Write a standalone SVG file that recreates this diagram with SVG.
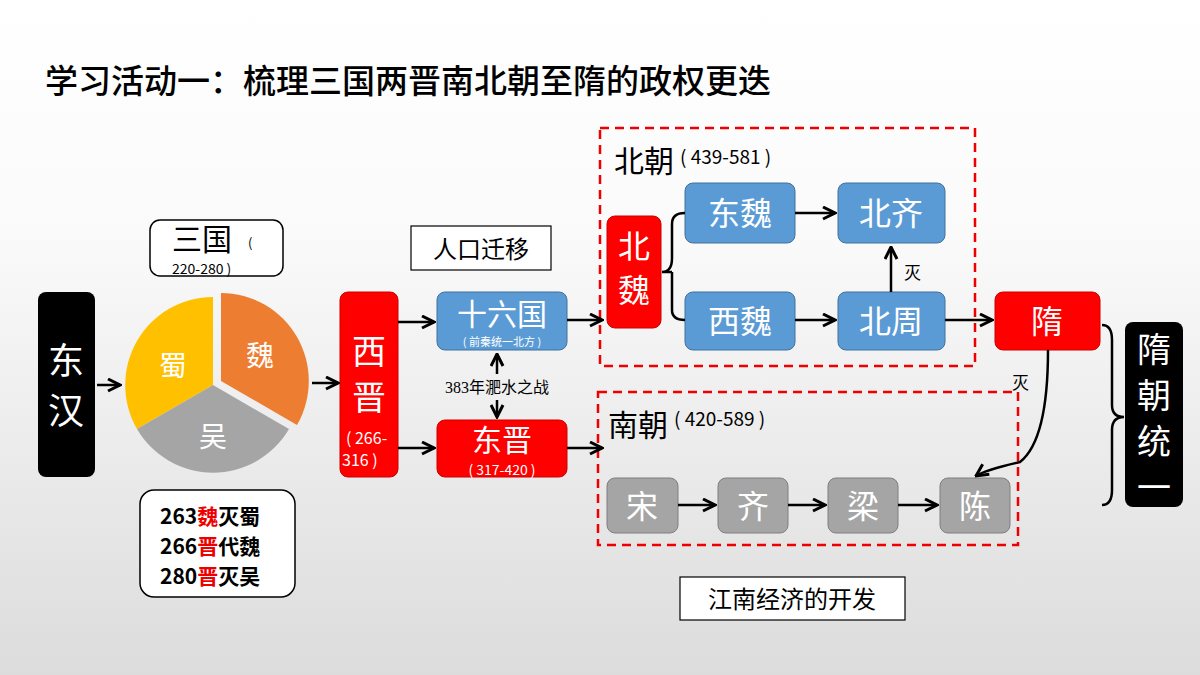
<svg xmlns="http://www.w3.org/2000/svg" width="1200" height="675" viewBox="0 0 1200 675">
<defs>
<linearGradient id="bg" x1="0" y1="0" x2="0" y2="1"><stop offset="0" stop-color="#ffffff"/><stop offset="0.35" stop-color="#fafafa"/><stop offset="1" stop-color="#dcdcdc"/></linearGradient>
<marker id="ah" viewBox="0 0 10 10" refX="9" refY="5" markerWidth="6" markerHeight="6" orient="auto-start-reverse"><path d="M1 1 L9 5 L1 9" fill="none" stroke="#000" stroke-width="2"/></marker>
<style>
text{font-family:"Noto Sans CJK SC","Liberation Sans",sans-serif}
.w{fill:#fff}.k{fill:#000}
.c{stroke:#000;stroke-width:2.5;fill:none;marker-end:url(#ah)}
.blue{fill:#5b9bd5;stroke:#41719c;stroke-width:1}
.red{fill:#f00;stroke:#c00;stroke-width:1}
.gray{fill:#a5a5a5;stroke:#7f7f7f;stroke-width:1}
.dash{fill:none;stroke:#e00;stroke-width:2.5;stroke-dasharray:9 6}
</style>
</defs>
<rect width="1200" height="675" fill="url(#bg)"/>
<text x="45" y="93" font-size="33" font-weight="500" class="k">学习活动一：梳理三国两晋南北朝至隋的政权更迭</text>

<g id="donghan"><rect x="38" y="292" width="57" height="185" rx="8" fill="#000"/>
<text x="66" y="374" font-size="36" class="w" text-anchor="middle">东</text><text x="66" y="424" font-size="36" class="w" text-anchor="middle">汉</text></g>

<g id="sanguo-pie">
<path d="M213 385 L213 297 A88 88 0 0 0 137 429 Z" fill="#ffc000"/>
<path d="M221 381 L221 293 A88 88 0 0 1 297 425 Z" fill="#ed7d31"/>
<path d="M213 385 L289 429 A88 88 0 0 1 137 429 Z" fill="#a5a5a5"/>
<text x="173" y="376" font-size="28" class="w" text-anchor="middle">蜀</text>
<text x="260" y="366" font-size="28" class="w" text-anchor="middle">魏</text>
<text x="213" y="447" font-size="28" class="w" text-anchor="middle">吴</text>
</g>
<g id="sanguo-label"><rect x="150" y="220" width="133" height="56" rx="10" fill="#fff" stroke="#000" stroke-width="1.5"/>
<text x="172" y="250" font-size="30" class="k">三国</text><text x="248" y="248" font-size="13" class="k">(</text>
<text x="172" y="274" font-size="14" class="k">220-280 )</text></g>
<g id="note"><rect x="140" y="490" width="155" height="107" rx="14" fill="#fff" stroke="#000" stroke-width="1.5"/>
<text x="160" y="524" font-size="21" font-weight="bold" class="k">263<tspan fill="#e00">魏</tspan>灭蜀</text>
<text x="160" y="554" font-size="21" font-weight="bold" class="k">266<tspan fill="#e00">晋</tspan>代魏</text>
<text x="160" y="584" font-size="21" font-weight="bold" class="k">280<tspan fill="#e00">晋</tspan>灭吴</text></g>

<g id="xijin"><rect x="340" y="292" width="58" height="185" rx="8" class="red"/>
<text x="369" y="364" font-size="34" class="w" text-anchor="middle">西</text><text x="369" y="410" font-size="34" class="w" text-anchor="middle">晋</text>
<text x="346" y="444" font-size="16" class="w">( 266-</text><text x="342" y="466" font-size="16" class="w">316 )</text></g>
<g id="renkou"><rect x="411" y="226" width="140" height="44" fill="#fff" stroke="#000" stroke-width="1.2"/>
<text x="481" y="258" font-size="24" class="k" text-anchor="middle">人口迁移</text></g>
<g id="shiliuguo"><rect x="437" y="292" width="130" height="58" rx="8" class="blue"/>
<text x="502" y="325" font-size="30" class="w" text-anchor="middle">十六国</text>
<text x="502" y="346" font-size="11" class="w" text-anchor="middle">( 前秦统一北方 )</text></g>
<g id="dongjin"><rect x="437" y="420" width="130" height="57" rx="8" class="red"/>
<text x="502" y="451" font-size="30" class="w" text-anchor="middle">东晋</text>
<text x="502" y="475" font-size="14" class="w" text-anchor="middle">( 317-420 )</text></g>
<text x="497" y="393" font-size="16" class="k" text-anchor="middle" style="font-family:'Liberation Serif','Noto Sans CJK SC',serif">383年淝水之战</text>

<g id="beichao"><rect x="600" y="128" width="375" height="238" class="dash"/>
<text x="614" y="172" font-size="30" class="k">北朝</text><text x="680" y="164" font-size="19" class="k">( 439-581 )</text></g>
<g id="beiwei"><rect x="607" y="216" width="54" height="112" rx="8" class="red"/>
<text x="634" y="258" font-size="32" class="w" text-anchor="middle">北</text><text x="634" y="302" font-size="32" class="w" text-anchor="middle">魏</text></g>
<g id="dongwei"><rect x="685" y="183" width="110" height="60" rx="8" class="blue"/><text x="740" y="225" font-size="32" class="w" text-anchor="middle">东魏</text></g>
<g id="beiqi"><rect x="838" y="183" width="107" height="60" rx="8" class="blue"/><text x="891" y="225" font-size="32" class="w" text-anchor="middle">北齐</text></g>
<g id="xiwei"><rect x="685" y="292" width="110" height="58" rx="8" class="blue"/><text x="740" y="333" font-size="32" class="w" text-anchor="middle">西魏</text></g>
<g id="beizhou"><rect x="838" y="292" width="107" height="58" rx="8" class="blue"/><text x="891" y="333" font-size="32" class="w" text-anchor="middle">北周</text></g>
<g id="sui"><rect x="995" y="292" width="105" height="58" rx="8" class="red"/><text x="1047" y="333" font-size="32" class="w" text-anchor="middle">隋</text></g>

<g id="nanchao"><rect x="598" y="392" width="420" height="153" class="dash"/>
<text x="608" y="436" font-size="30" class="k">南朝</text><text x="674" y="426" font-size="19" class="k">( 420-589 )</text></g>
<g id="song"><rect x="607" y="478" width="71" height="55" rx="8" class="gray"/><text x="642" y="518" font-size="32" class="w" text-anchor="middle">宋</text></g>
<g id="qi"><rect x="718" y="478" width="70" height="55" rx="8" class="gray"/><text x="753" y="518" font-size="32" class="w" text-anchor="middle">齐</text></g>
<g id="liang"><rect x="828" y="478" width="70" height="55" rx="8" class="gray"/><text x="863" y="518" font-size="32" class="w" text-anchor="middle">梁</text></g>
<g id="chen"><rect x="940" y="478" width="70" height="55" rx="8" class="gray"/><text x="975" y="518" font-size="32" class="w" text-anchor="middle">陈</text></g>

<g id="suichao"><rect x="1125" y="322" width="58" height="185" rx="8" fill="#000"/>
<text x="1154" y="362" font-size="34" class="w" text-anchor="middle">隋</text><text x="1154" y="408" font-size="34" class="w" text-anchor="middle">朝</text>
<text x="1154" y="454" font-size="34" class="w" text-anchor="middle">统</text><text x="1154" y="500" font-size="34" class="w" text-anchor="middle">一</text></g>
<g id="jiangnan"><rect x="680" y="577" width="225" height="43" fill="#fff" stroke="#000" stroke-width="1.2"/>
<text x="792" y="608" font-size="24" class="k" text-anchor="middle">江南经济的开发</text></g>

<g id="connectors">
<path class="c" d="M97 385 H120"/>
<path class="c" d="M312 383 H338"/>
<path class="c" d="M398 322 H434"/>
<path class="c" d="M398 448 H434"/>
<path class="c" d="M497 374 V354"/>
<path class="c" d="M497 400 V417"/>
<path class="c" d="M567 320 H602"/>
<path class="c" d="M567 448 H602"/>
<path d="M662 272 Q672 272 672 258 V224 Q672 213 685 213 M672 272 Q672 272 672 286 V310 Q672 320 685 320 M662 272 H672" fill="none" stroke="#000" stroke-width="2.5"/>
<path class="c" d="M795 213 H835"/>
<path class="c" d="M795 320 H835"/>
<path class="c" d="M891 292 V247"/>
<path class="c" d="M945 320 H992"/>
<path class="c" d="M678 505 H715"/>
<path class="c" d="M788 505 H825"/>
<path class="c" d="M898 505 H937"/>
<path class="c" d="M1048 350 Q1048 440 1020 462 Q985 470 976 476"/>
<path d="M1102 325 Q1112 325 1112 340 V405 Q1112 417 1124 417 Q1112 417 1112 430 V490 Q1112 505 1102 505" fill="none" stroke="#000" stroke-width="2.5"/>
<text x="904" y="279" font-size="17" class="k">灭</text>
<text x="1012" y="389" font-size="17" class="k">灭</text>
</g>
</svg>
